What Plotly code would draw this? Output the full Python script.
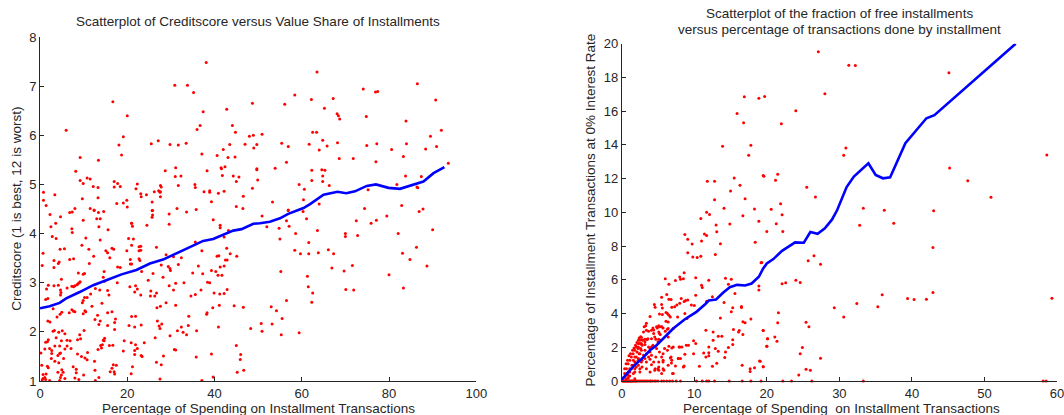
import plotly.graph_objects as go

W, H = 1064, 415

# Left panel: value share (x), credit score (y)
left_x = [38.1,30.9,33.8,35.2,16.7,20.0,37.4,42.8,48.7,6.0,36.0,36.7,44.1,44.8,19.1,48.0,48.9,18.1,25.5,27.1,29.8,31.7,33.5,43.5,47.0,49.7,49.0,42.0,18.7,37.1,40.6,9.2,43.1,44.7,13.4,8.2,28.7,31.1,38.3,41.5,42.4,41.6,49.7,49.7,31.0,32.3,41.8,44.3,45.6,10.8,11.5,9.2,9.9,17.0,45.0,49.9,17.8,22.3,27.6,31.7,35.5,12.2,13.3,17.0,18.4,27.8,35.6,22.0,48.7,0.8,26.2,27.2,27.5,27.6,37.6,38.9,38.9,42.2,40.9,3.4,23.1,23.2,24.4,27.6,13.3,9.7,46.6,0.8,19.9,1.4,17.6,19.1,25.7,39.3,8.0,20.0,11.5,12.4,31.4,45.0,46.5,25.8,35.8,
 12.4,13.4,14.6,2.3,4.7,3.6,2.5,6.8,7.4,9.9,13.5,15.6,7.3,7.4,2.8,3.7,10.5,13.8,20.3,21.4,21.0,21.0,21.2,25.7,25.8,25.7,24.5,29.6,29.6,33.6,39.7,41.3,41.3,43.2,13.0,13.8,0.7,0.5,9.6,11.2,4.6,5.6,6.8,7.7,12.3,11.3,3.2,3.2,4.4,4.2,15.1,15.5,16.0,16.5,16.9,17.8,18.4,20.7,20.7,21.0,19.9,21.0,22.7,23.1,22.7,23.1,22.7,22.9,23.3,26.7,27.8,25.9,29.4,29.8,29.9,30.6,32.4,28.9,31.7,35.6,37.1,36.3,35.0,37.3,39.3,40.3,41.3,42.2,40.6,41.0,42.5,42.9,42.8,43.6,45.1,42.2,40.8,41.7,14.7,4.9,8.7,9.0,8.5,8.0,7.7,9.2,8.8,9.9,10.2,6.2,7.3,1.9,3.2,4.2,4.7,4.8,4.7,1.5,1.8,1.3,12.7,13.7,14.5,14.8,15.5,15.8,14.2,17.7,20.6,21.9,22.3,21.7,23.1,24.8,25.4,25.3,26.3,26.7,28.2,29.6,30.6,31.1,33.0,34.6,35.6,36.9,38.4,38.9,39.9,41.2,42.2,42.9,10.2,9.9,9.7,10.8,11.6,10.3,10.5,9.9,11.9,7.3,7.7,8.0,6.7,5.0,4.6,3.9,3.0,1.8,2.3,13.2,12.6,13.8,15.5,16.5,17.3,17.1,17.1,15.5,13.5,21.0,21.9,20.4,21.7,23.2,26.8,27.6,28.9,31.1,34.1,26.9,27.9,27.3,27.5,26.4,32.4,31.5,32.8,33.6,34.0,35.9,29.8,38.3,38.2,39.6,41.1,44.5,46.6,40.9,48.3,3.3,3.0,4.3,5.1,3.7,5.7,9.1,9.3,8.6,10.1,4.9,6.2,6.9,1.9,1.7,1.3,14.8,14.5,14.7,19.3,20.9,21.9,23.9,16.7,15.9,14.3,13.9,7.1,6.2,5.7,4.5,3.4,2.2,1.1,0.2,2.7,2.7,4.5,4.1,4.7,8.6,10.9,19.1,22.3,21.7,30.8,31.1,39.3,23.2,23.4,21.7,13.3,14.1,35.8,45.0,46.0,45.9,9.5,10.3,10.8,26.7,27.8,28.3,12.5,3.4,4.3,5.4,2.6,1.9,1.7,0.4,7.6,8.3,8.3,10.0,12.6,16.8,17.5,16.5,16.1,17.0,17.1,21.2,20.9,13.5,12.7,27.5,37.1,39.7,45.2,46.7,5.0,4.1,5.3,4.9,4.7,4.5,5.7,0.7,1.4,0.7,0.5,1.1,1.3,2.2,8.0,8.9,
 63.5,86.5,74.1,76.9,77.4,58.4,62.2,67.2,90.7,56.1,65.2,68.1,68.4,68.7,74.8,83.9,92.0,50.9,62.5,63.4,89.5,64.8,55.4,56.9,61.7,65.8,68.2,74.9,77.2,84.0,90.9,64.0,80.6,88.4,83.3,68.6,71.8,56.5,77.0,93.6,53.9,62.3,64.6,65.3,64.8,83.8,87.4,62.3,64.8,59.4,66.3,60.6,81.8,86.4,86.6,75.2,60.4,53.3,64.0,82.9,74.4,87.8,56.9,
 50.9,56.9,60.3,61.1,56.5,52.0,54.8,57.1,63.6,72.5,77.1,75.9,79.5,86.9,90.0,58.6,70.0,70.0,72.8,82.1,55.0,61.6,86.3,58.4,59.7,61.6,63.8,66.1,67.3,83.1,84.8,71.6,66.9,69.7,88.7,55.2,61.3,80.0,61.5,70.1,71.9,83.3,62.5,62.3,56.5,53.0,54.2,55.5,50.7,53.2,50.9,55.3,59.4]
left_y = [7.48,7.02,7.02,6.87,6.68,6.40,6.48,6.53,6.65,6.10,6.12,6.20,6.20,6.06,5.97,5.98,6.00,5.80,5.83,5.89,5.81,5.80,5.84,5.81,5.82,5.81,5.74,5.71,5.60,5.62,5.59,5.55,5.55,5.56,5.49,5.27,5.28,5.34,5.28,5.34,5.36,5.32,5.32,5.30,5.16,5.17,5.18,5.17,5.15,5.13,5.11,5.08,5.02,5.06,5.06,5.09,5.02,5.01,4.98,4.98,5.00,4.96,4.94,4.95,4.96,4.95,4.94,4.91,4.92,4.84,4.85,4.87,4.84,4.85,4.85,4.87,4.84,4.86,4.82,4.79,4.81,4.75,4.79,4.75,4.73,4.71,4.76,4.68,4.68,4.57,4.61,4.62,4.64,4.65,4.51,4.54,4.51,4.48,4.51,4.55,4.51,4.47,4.49,
 4.47,4.43,4.45,4.39,4.34,4.21,4.14,4.43,4.44,4.27,4.14,4.08,4.10,4.02,3.94,3.90,3.91,3.87,3.90,3.89,4.21,4.21,4.15,4.47,4.38,4.33,4.17,4.40,4.19,4.44,4.28,4.17,4.12,4.06,4.30,4.30,3.60,3.35,3.76,3.68,3.68,3.69,3.47,3.49,3.54,3.39,3.45,3.31,3.42,3.39,3.65,3.61,3.51,3.70,3.68,3.32,3.31,3.47,3.38,3.38,3.65,3.76,3.73,3.74,3.65,3.66,3.49,3.45,3.23,3.72,3.36,3.19,3.33,3.29,3.25,3.53,3.51,3.57,3.37,3.83,3.65,3.34,3.20,3.18,3.25,3.23,3.32,3.34,3.54,3.55,3.46,3.46,3.70,3.59,3.54,3.93,3.15,3.15,3.23,3.07,2.98,3.00,2.96,2.94,2.92,3.02,3.20,3.17,3.19,2.89,2.93,2.95,2.94,2.95,2.85,2.80,2.75,2.87,2.68,2.66,2.88,2.85,3.11,3.03,2.84,2.75,2.58,3.00,2.92,2.94,2.87,2.81,2.75,3.05,2.83,2.73,2.73,2.79,3.11,2.94,2.85,2.99,3.00,2.73,2.76,2.85,3.01,3.00,2.79,2.77,2.78,2.86,2.70,2.64,2.59,2.70,2.77,2.43,2.41,2.37,2.52,2.45,2.42,2.41,2.39,2.40,2.36,2.30,2.47,2.22,2.20,2.34,2.25,2.22,2.39,2.41,2.26,2.19,2.05,2.13,2.15,2.31,2.32,2.13,2.10,2.14,2.49,2.52,2.59,2.54,2.32,2.22,2.16,2.12,2.07,1.88,2.10,2.02,1.99,1.94,2.13,2.02,1.92,2.39,2.36,2.49,2.54,2.53,2.50,2.10,2.07,2.03,2.01,1.99,2.02,1.88,1.96,1.94,1.86,1.84,2.03,1.82,1.83,1.82,1.84,1.80,1.79,1.87,1.83,1.82,1.82,1.78,1.74,1.78,1.73,1.72,1.74,1.72,1.66,1.71,1.65,1.71,1.71,1.66,1.65,1.57,1.62,1.56,1.56,1.52,1.57,1.55,1.58,1.61,1.66,1.62,1.64,1.63,1.55,1.52,1.50,1.54,1.64,1.67,1.49,1.72,1.54,1.44,1.50,1.47,1.43,1.38,1.33,1.51,1.40,1.40,1.37,1.46,1.46,1.27,1.30,1.32,1.29,1.24,1.17,1.12,1.22,1.33,1.32,1.26,1.19,1.19,1.14,1.29,1.15,1.07,1.01,1.04,1.01,1.08,1.18,1.22,1.23,1.18,1.18,1.12,1.07,1.01,1.05,1.13,1.14,1.05,1.02,1.07,1.03,1.01,1.06,1.03,
 7.29,7.05,6.94,6.88,6.89,6.82,6.73,6.75,6.72,6.63,6.55,6.44,6.40,6.33,6.38,6.29,6.10,6.02,6.06,6.06,5.98,5.90,5.84,5.77,5.82,5.78,5.85,5.79,5.83,5.83,5.77,5.70,5.71,5.72,5.57,5.53,5.53,5.45,5.46,5.43,5.33,5.29,5.30,5.29,5.17,5.17,5.16,5.08,5.06,5.00,4.98,4.90,5.00,4.95,4.93,4.89,4.69,4.64,4.60,4.57,4.51,4.50,4.48,
 4.36,4.47,4.45,4.30,4.26,4.14,4.11,4.15,4.06,4.26,4.27,4.21,4.36,4.45,4.08,4.00,4.00,3.94,3.96,4.00,3.89,3.82,3.72,3.66,3.59,3.59,3.61,3.67,3.59,3.60,3.47,3.35,3.30,3.24,3.34,3.23,3.13,3.16,2.92,2.86,2.85,2.89,2.79,2.60,2.64,2.51,2.43,2.27,2.17,2.16,2.01,1.94,1.98]
left_fit_x = [0,2.2,4.5,6,9.1,12.2,15.2,18.7,22.1,25.2,28.2,31.3,34.4,37.4,39.7,42,44.3,46.2,48.9,50.4,52.7,55,56.9,59.2,60.4,61.9,65.0,68.2,70.2,72.2,74.9,77,79.9,82.5,84.5,87.9,90.2,92.7]
left_fit_y = [2.48,2.52,2.59,2.68,2.81,2.95,3.05,3.17,3.26,3.39,3.47,3.60,3.73,3.85,3.89,3.98,4.06,4.09,4.20,4.21,4.24,4.31,4.40,4.48,4.52,4.60,4.79,4.85,4.82,4.86,4.97,5.0,4.93,4.91,4.96,5.06,5.23,5.35]

# Right panel: share of transactions (x), share at 0% interest (y)
right_x = [27.1,28.0,16.9,18.9,19.7,24.0,15.9,16.8,22.0,13.9,17.8,17.5,19.5,19.6,21.5,15.5,11.8,12.8,21.2,16.3,25.5,15.0,26.7,12.8,17.0,21.9,14.1,18.3,20.6,
 31.3,32.2,45.1,30.9,30.6,58.6,45.2,47.7,50.9,33.3,36.2,43.0,
 22.1,21.3,37.5,32.8,20.0,22.2,42.9,19.2,26.5,25.7,27.4,22.1,22.6,24.0,24.6,42.9,35.9,39.4,40.3,42.0,32.4,35.3,29.3,30.6,59.3,21.6,21.5,25.4,25.8,19.5,20.1,21.1,21.4,20.0,24.9,24.6,27.4,19.1,19.5,25.4,26.0,24.4,
 10.9,11.7,12.1,16.7,13.0,14.9,18.9,13.1,8.7,9.1,11.4,11.7,11.0,9.7,13.6,18.4,9.1,12.9,9.8,10.4,10.9,19.3,8.6,8.0,8.1,7.4,8.5,6.0,6.5,10.2,12.0,14.3,15.1,14.7,11.0,11.1,15.6,18.9,18.9,6.2,5.5,10.2,12.5,8.2,6.5,6.8,8.8,9.1,8.6,8.0,4.5,4.6,5.5,5.6,9.6,10.0,7.6,6.9,7.3,14.1,11.7,15.3,15.1,16.5,16.5,6.1,6.3,6.5,6.7,5.6,5.2,3.9,7.7,8.7,9.0,6.1,6.4,3.4,3.3,4.3,4.4,4.9,5.2,5.5,5.7,5.1,3.0,3.7,4.4,5.1,5.3,6.0,6.3,7.1,2.6,2.8,3.2,3.5,4.1,4.7,5.1,2.4,2.3,2.1,1.9,1.7,1.5,1.2,1.0,0.8,0.6,0.4,2.5,2.8,3.2,3.7,4.1,2.3,2.6,3.2,3.9,2.1,2.4,3.0,3.7,4.1,1.8,2.3,2.8,3.4,3.9,1.6,1.9,1.4,2.3,1.1,1.8,2.8,0.9,0.7,1.6,2.5,0.5,1.1,0.2,0.9,1.8,0.6,
 5.1,5.7,5.7,5.1,4.6,5.8,7.0,6.4,6.9,7.4,7.8,8.1,6.7,6.3,5.9,6.9,7.9,8.3,8.7,9.2,9.9,10.2,9.9,8.5,8.6,10.7,11.3,11.6,12.0,12.0,12.0,12.6,11.6,13.6,12.6,13.3,13.8,12.9,13.3,13.1,12.5,14.3,14.2,14.7,15.3,15.3,15.4,16.1,16.2,16.7,16.6,16.7,17.0,17.8,17.7,17.7,18.3,19.0,19.5,19.5,20.1,20.0,6.5,5.4,4.8,5.2,5.5,4.7,4.4,5.1,4.1,3.4,3.9,
 0.2,0.4,0.5,0.6,0.8,0.9,1.0,1.2,1.4,1.6,1.9,2.2,2.6,3.0,3.4,3.9,4.2,4.7,5.0,6.2,7.0,8.1,10.3,11.1,11.7,12.0,12.8,14.8,16.6,17.8,19.2,22.2,23.4,26.2,33.3,58.1,58.5,
 2.7,2.5,2.25,2.0,1.8,1.56,1.33,1.1,0.87,0.64,0.41,2.7,2.9,3.2,2.25,2.7,2.5,2.0,2.25,1.8,1.56,1.33,1.1,0.87,2.0,2.7,1.8,2.5,3.2,3.4,3.9,4.3,3.6,4.1,4.8,5.5,5.2,6.4,6.4,3.4,3.1,4.55,5.0,7.1,8.0,5.7,6.8,7.8,5.7,5.0,4.55,5.5,7.1,6.85,8.9,
 0.1,0.3,0.7,1.1,1.3,1.5,1.8,2.0,2.4,2.8,3.2,3.6,4.0,4.5,5.5,5.8,6.6,7.5]
right_y = [19.52,17.03,16.85,16.77,16.87,16.02,15.86,15.31,15.25,13.92,13.98,13.39,12.18,12.14,12.26,12.04,11.84,11.84,11.90,11.60,11.49,11.27,10.91,10.75,10.81,10.51,10.24,10.20,10.18,
 18.73,18.71,18.28,13.82,13.39,13.40,12.63,11.88,10.89,10.24,10.12,10.10,
 9.86,9.33,9.35,9.23,8.87,8.87,7.92,7.01,7.43,7.13,6.93,5.76,5.82,5.98,5.84,5.25,5.11,4.89,4.83,4.85,4.59,4.40,4.34,3.80,4.91,4.04,3.45,3.49,3.21,2.99,2.51,2.61,2.36,2.06,1.98,1.62,1.35,1.17,0.85,0.69,0.63,0.36,
 9.64,10.00,9.88,9.80,9.25,9.31,9.47,8.85,8.69,8.40,8.71,8.63,8.30,8.12,8.14,8.22,7.60,7.50,7.35,7.33,7.39,7.03,6.42,6.16,6.04,5.96,6.06,6.06,5.74,6.12,5.98,6.10,6.04,5.74,5.68,5.54,5.19,5.64,5.39,5.13,4.97,5.09,4.99,4.89,4.85,4.83,4.77,4.81,4.71,4.61,4.53,4.38,4.53,4.33,4.51,4.48,4.50,4.38,4.40,4.65,4.73,4.34,4.10,4.42,4.36,4.06,4.00,3.90,3.80,3.94,3.98,3.82,3.80,4.00,3.70,3.54,3.50,3.43,3.27,3.15,3.03,3.15,3.21,3.21,3.15,3.27,2.91,2.95,2.81,2.91,2.75,2.95,3.07,3.11,2.63,2.44,2.48,2.46,2.51,2.48,2.48,2.55,2.42,2.28,2.12,1.96,1.82,1.62,1.49,1.23,1.03,0.73,2.22,2.12,2.16,2.02,2.02,2.02,1.92,1.82,1.72,1.72,1.62,1.52,1.43,1.52,1.43,1.33,1.23,1.13,1.29,1.23,1.09,0.93,0.93,0.73,0.73,0.83,0.53,0.44,0.44,0.53,0.30,0.30,0.18,0.18,0.14,0.14,
 0.83,1.13,0.73,0.63,0.73,0.63,0.44,0.93,1.23,0.89,1.33,1.33,1.37,1.82,1.92,1.96,2.02,2.02,1.58,2.12,2.38,2.22,1.62,0.83,0.89,0.87,1.66,1.43,1.49,1.68,2.02,2.91,3.01,3.74,2.42,2.65,2.65,1.92,1.76,1.05,0.87,1.72,1.39,1.98,2.16,2.44,3.05,2.91,2.99,2.75,0.93,3.51,3.45,3.68,0.73,0.57,0.79,1.19,0.85,2.99,2.51,2.06,2.06,2.42,1.92,1.72,1.43,1.43,1.13,1.13,0.97,0.73,0.53,
 0,0,0,0,0,0,0,0,0,0,0,0,0,0,0,0,0,0,0,0,0,0,0,0,0,0,0,0,0,0,0,0,0,0,0,0,0,
 2.6,2.42,2.22,2.02,1.82,1.62,1.43,1.23,1.03,0.73,0.44,2.22,2.42,2.32,1.92,1.82,1.62,1.43,1.23,1.13,0.93,0.73,0.53,0.34,0.83,1.13,0.53,0.73,1.33,1.62,1.92,2.12,2.51,3.01,3.21,3.21,2.81,3.11,2.61,3.01,3.21,2.61,2.32,2.02,2.02,1.62,1.43,1.33,1.23,0.73,0.63,0.44,0.44,1.07,2.12,
 0,0,0,0,0,0,0,0,0,0,0,0,0,0,0,0,0,0]
right_fit_x = [0,0.7,1.6,2.8,3.9,4.8,6.0,7.1,8.7,10.3,11.5,12,13,14,14.9,15.9,17,17.9,18.9,19.5,20,20.9,22.1,23.9,25.1,26,27,28,29,29.7,31,32,34,35,36,37,39.1,42,43.1,54.3]
right_fit_y = [0.08,0.44,0.87,1.33,1.82,2.12,2.61,3.11,3.66,4.10,4.55,4.77,4.83,5.25,5.56,5.70,5.66,5.78,6.18,6.67,6.97,7.23,7.72,8.22,8.20,8.83,8.73,9.05,9.58,10.14,11.5,12.12,12.91,12.22,12.02,12.08,14.1,15.58,15.76,20.0]

left_xticks = [0,20,40,60,80,100]
left_yticks = [1,2,3,4,5,6,7,8]
right_xticks = [0,10,20,30,40,50,60]
right_yticks = [0,2,4,6,8,10,12,14,16,18,20]

title_left = "Scatterplot of Creditscore versus Value Share of Installments"
title_right_1 = "Scatterplot of the fraction of free installments"
title_right_2 = "versus percentage of transactions done by installment"
xlabel_left = "Percentage of Spending on Installment Transactions"
xlabel_right = "Percentage of Spending  on Installment Transactions"
ylabel_left = "Creditscore (1 is best, 12 is worst)"
ylabel_right = "Percentage of Installment Transactions at 0% Interest Rate"

FONT = "Liberation Sans, Arial, sans-serif"
INK = "#262626"
RED = "#ff0000"
BLUE = "#0000ff"
TEXT = 13.5

# Plot box in page pixels; domains and annotations are relative to it
L, R, T, B = 40.3, 1056.7, 37.3, 380.7
def px(x): return (x - L) / (R - L)
def py(y): return (B - y) / (B - T)

fig = go.Figure()
for xs, ys, fx, fy, ax, ay in [
    (left_x, left_y, left_fit_x, left_fit_y, "x", "y"),
    (right_x, right_y, right_fit_x, right_fit_y, "x2", "y2"),
]:
    fig.add_trace(go.Scatter(x=xs, y=ys, xaxis=ax, yaxis=ay, mode="markers", cliponaxis=False,
                             marker=dict(color=RED, size=3, line=dict(width=0)), showlegend=False))
    fig.add_trace(go.Scatter(x=fx, y=fy, xaxis=ax, yaxis=ay, mode="lines", cliponaxis=False,
                             line=dict(color=BLUE, width=2.6), showlegend=False))

def axis_style(**kw):
    return dict(showgrid=False, zeroline=False, showline=True, linecolor=INK, linewidth=1,
                ticks="inside", ticklen=4, tickwidth=1, tickcolor=INK, automargin=False,
                ticklabeloverflow="allow",
                tickfont=dict(family=FONT, size=13, color=INK), **kw)

def ann(text, x, y, angle=0):
    return dict(text=text, x=px(x), y=py(y), xref="paper", yref="paper", showarrow=False,
                xanchor="center", yanchor="middle", textangle=angle, align="center",
                font=dict(family=FONT, size=TEXT, color=INK))

fig.update_layout(
    width=W, height=H, autosize=False,
    margin=dict(l=L, r=W - R, t=T, b=H - B, pad=0),
    paper_bgcolor="white", plot_bgcolor="white", showlegend=False,
    xaxis=axis_style(domain=[px(40.3), px(476.3)], range=[0, 100], tickvals=left_xticks, anchor="y"),
    yaxis=axis_style(domain=[py(380.7), py(37.3)], range=[1, 8], tickvals=left_yticks, anchor="x"),
    xaxis2=axis_style(domain=[px(621.7), px(1056.7)], range=[0, 60], tickvals=right_xticks, anchor="y2"),
    yaxis2=axis_style(domain=[py(380.7), py(44)], range=[0, 20], tickvals=right_yticks, anchor="x2"),
    annotations=[
        ann(title_left, 258, 22),
        ann(title_right_1, 839, 13.5),
        ann(title_right_2, 839.5, 30),
        ann(xlabel_left, 259, 408),
        ann(xlabel_right, 841, 408),
        ann(ylabel_left, 16, 209, angle=-90),
        ann(ylabel_right, 590, 210.5, angle=-90),
    ],
)

fig.write_html("out.html", config={"displayModeBar": False},
               post_script="document.body.style.margin='0';")
